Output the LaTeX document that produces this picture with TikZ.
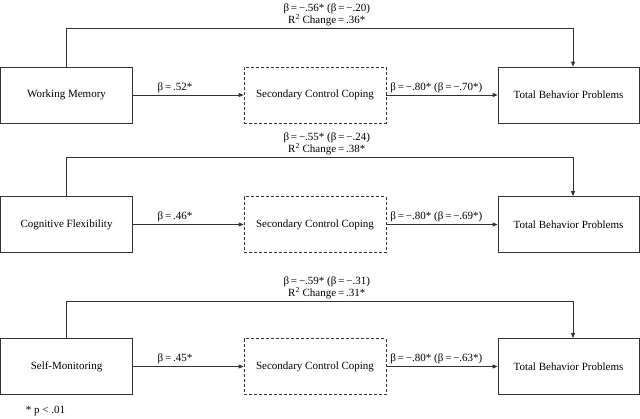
\documentclass[tikz,border=0pt]{standalone}
\usepackage{fontspec}
\setmainfont{Liberation Serif}
\usetikzlibrary{arrows.meta}
\newcommand{\eqs}{\,=\,}

\begin{document}
\begin{tikzpicture}[x=1pt, y=-1pt, font=\fontsize{11}{12}\selectfont,
    box/.style={draw=black!80, line width=0.8pt, minimum height=56pt, inner sep=0pt},
    midbox/.style={box, dash pattern=on 3pt off 2pt, minimum width=142pt},
    link/.style={draw=black!80, line width=0.8pt, -{Triangle[length=5pt, width=4pt]}},
    lbl/.style={above, inner sep=2pt},
    toplbl/.style={above, align=center, inner sep=2.5pt, xshift=7pt, pos=0.25}]
    \useasboundingbox (0,0) rectangle (640,418);
    % row 1
    \node[box, minimum width=132pt] (wm) at (66.5,95) {Working Memory};
    \node[midbox] (scc1) at (315,95) {Secondary Control Coping};
    \node[box, minimum width=141pt] (tbp1) at (568.5,95) {Total Behavior Problems};
    \draw[link] (wm) -- node[lbl, pos=0.38] {β\eqs.52*} (scc1);
    \draw[link] (scc1) -- node[lbl, pos=0.45] {β\eqs−.80* (β\eqs−.70*)} (tbp1);
    \draw[link] (wm.north) -- ++(0,-38) -| node[toplbl] {β\eqs−.56* (β\eqs−.20)\\R\textsuperscript{2} Change\eqs.36*} ([xshift=4.5pt]tbp1.north);
    % row 2
    \node[box, minimum width=132pt] (cf) at (66.5,224.5) {Cognitive Flexibility};
    \node[midbox] (scc2) at (315,224.5) {Secondary Control Coping};
    \node[box, minimum width=141pt] (tbp2) at (568.5,224.5) {Total Behavior Problems};
    \draw[link] (cf) -- node[lbl, pos=0.38] {β\eqs.46*} (scc2);
    \draw[link] (scc2) -- node[lbl, pos=0.45] {β\eqs−.80* (β\eqs−.69*)} (tbp2);
    \draw[link] (cf.north) -- ++(0,-38.5) -| node[toplbl] {β\eqs−.55* (β\eqs−.24)\\R\textsuperscript{2} Change\eqs.38*} ([xshift=4.5pt]tbp2.north);
    % row 3
    \node[box, minimum width=132pt] (sm) at (66.5,366.5) {Self-Monitoring};
    \node[midbox] (scc3) at (315,366.5) {Secondary Control Coping};
    \node[box, minimum width=141pt] (tbp3) at (568.5,366.5) {Total Behavior Problems};
    \draw[link] (sm) -- node[lbl, pos=0.38] {β\eqs.45*} (scc3);
    \draw[link] (scc3) -- node[lbl, pos=0.45] {β\eqs−.80* (β\eqs−.63*)} (tbp3);
    \draw[link] (sm.north) -- ++(0,-36.5) -| node[toplbl] {β\eqs−.59* (β\eqs−.31)\\R\textsuperscript{2} Change\eqs.31*} ([xshift=4.5pt]tbp3.north);
    % footnote
    \node (note) at (45.5,411) {* p < .01};
\end{tikzpicture}
\end{document}
